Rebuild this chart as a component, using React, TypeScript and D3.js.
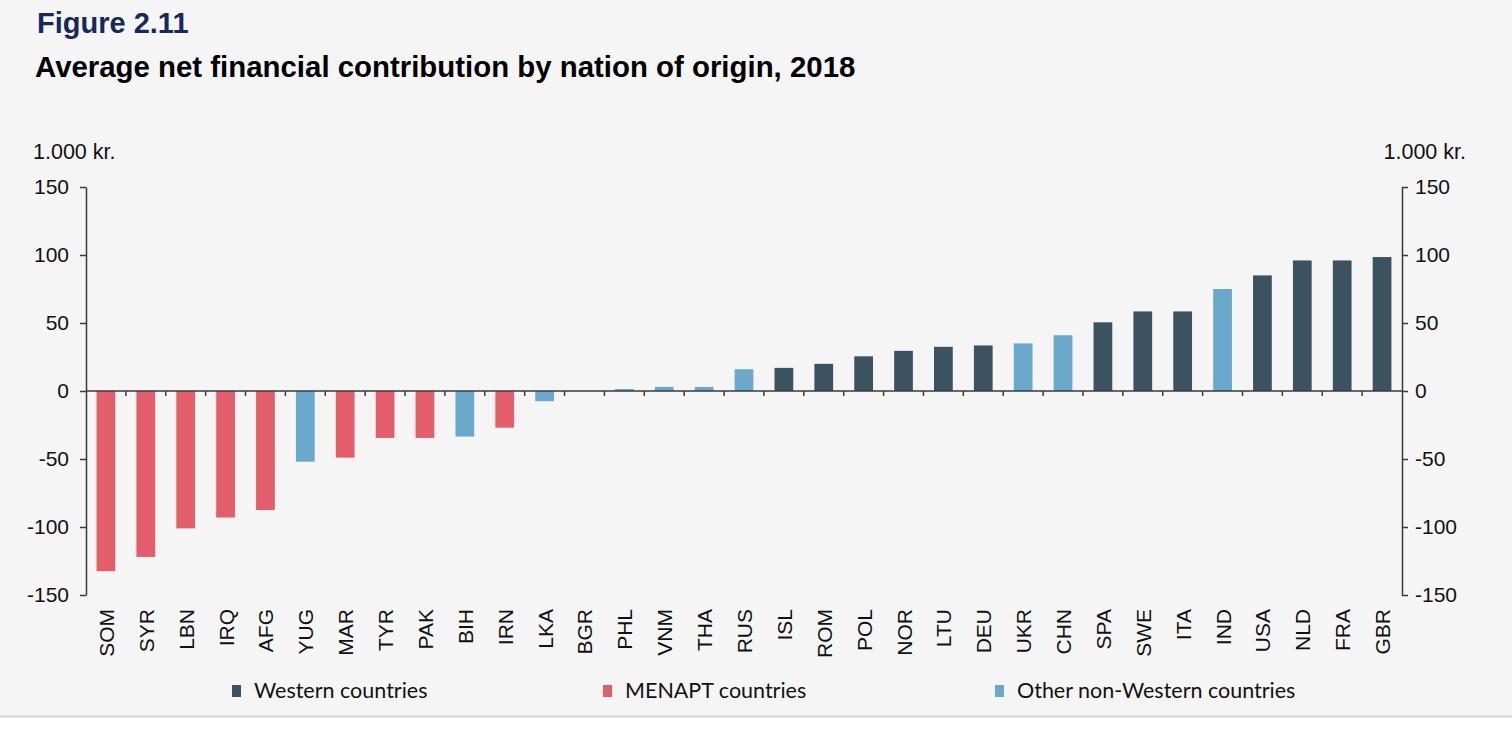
import React, { useEffect, useRef } from "react";
import * as d3 from "d3";

const WIDTH = 1512;
const HEIGHT = 729;

const countries = [
  "SOM", "SYR", "LBN", "IRQ", "AFG", "YUG", "MAR", "TYR", "PAK", "BIH", "IRN",
  "LKA", "BGR", "PHL", "VNM", "THA", "RUS", "ISL", "ROM", "POL", "NOR", "LTU",
  "DEU", "UKR", "CHN", "SPA", "SWE", "ITA", "IND", "USA", "NLD", "FRA", "GBR",
];
const values = [
  -132.5, -122, -101, -93, -87.5, -52, -49, -34.5, -34.5, -33.5, -27,
  -7.5, 0, 1.5, 3, 3, 16, 17, 20, 25.5, 29.5, 32.5,
  33.5, 35, 41, 50.5, 58.5, 58.5, 75, 85, 96, 96, 98.5,
];
// W = Western, M = MENAPT, O = other non-Western
const groups = [
  "M", "M", "M", "M", "M", "O", "M", "M", "M", "O", "M",
  "O", "O", "O", "O", "O", "O", "W", "W", "W", "W", "W",
  "W", "O", "O", "W", "W", "W", "O", "W", "W", "W", "W",
];
const legendLabels = ["Western countries", "MENAPT countries", "Other non-Western countries"];
const groupKeys = ["W", "M", "O"];
const yTicks = [-150, -100, -50, 0, 50, 100, 150];

const colors: Record<string, string> = {
  W: "#3d5261",
  M: "#e35d6a",
  O: "#6aa9cb",
};

const App: React.FC = () => {
  const ref = useRef<SVGSVGElement>(null);

  useEffect(() => {
    if (!ref.current) return;
    const svg = d3.select(ref.current);
    svg.selectAll("*").remove();

    const left = 86;
    const right = 1402;
    const top = 187;
    const bottom = 595;

    const font = "'Liberation Sans', Arial, sans-serif";

    // background
    svg.append("rect").attr("width", WIDTH).attr("height", 716).attr("fill", "#f5f5f5");
    svg.append("rect").attr("y", 716).attr("width", WIDTH).attr("height", HEIGHT - 716).attr("fill", "#ffffff");
    svg.append("line")
      .attr("x1", 0).attr("x2", WIDTH).attr("y1", 716.5).attr("y2", 716.5)
      .attr("stroke", "#d4d4d4").attr("stroke-width", 2);

    // titles
    svg.append("text")
      .attr("x", 37).attr("y", 33)
      .style("font-family", font)
      .style("font-size", "29px").style("font-weight", "bold")
      .attr("fill", "#16295e")
      .text("Figure 2.11");
    svg.append("text")
      .attr("x", 35).attr("y", 77)
      .style("font-family", font)
      .style("font-size", "29.4px").style("font-weight", "bold")
      .attr("fill", "#000")
      .text("Average net financial contribution by nation of origin, 2018");

    const x = d3.scaleBand().domain(countries).range([left, right]).paddingInner(0.53).paddingOuter(0.265);
    const xb = d3.scaleBand().domain(countries).range([left, right]);
    const y = d3.scaleLinear().domain([-150, 150]).range([bottom, top]);

    // bars
    svg.append("g")
      .selectAll("rect")
      .data(countries)
      .enter()
      .append("rect")
      .attr("x", (d) => x(d) as number)
      .attr("width", x.bandwidth())
      .attr("y", (d, i) => y(Math.max(0, values[i])))
      .attr("height", (d, i) => Math.abs(y(values[i]) - y(0)))
      .attr("fill", (d, i) => colors[groups[i]]);

    const axisColor = "#3a3a3a";

    // zero line and category ticks
    svg.append("line")
      .attr("x1", left).attr("x2", right).attr("y1", y(0)).attr("y2", y(0))
      .attr("stroke", axisColor).attr("stroke-width", 1.5);
    svg.append("g")
      .selectAll("line")
      .data(countries.slice(1))
      .enter()
      .append("line")
      .attr("x1", (d) => xb(d) as number)
      .attr("x2", (d) => xb(d) as number)
      .attr("y1", y(0))
      .attr("y2", y(0) + 5)
      .attr("stroke", axisColor)
      .attr("stroke-width", 1.5);

    const fmt = (d: d3.NumberValue) => String(d);

    // left axis
    const leftAxis = svg.append("g")
      .attr("transform", `translate(${left},0)`)
      .call(d3.axisLeft(y).tickValues(yTicks).tickSize(6).tickSizeOuter(0).tickPadding(11).tickFormat(fmt));
    // right axis
    const rightAxis = svg.append("g")
      .attr("transform", `translate(${right},0)`)
      .call(d3.axisRight(y).tickValues(yTicks).tickSize(6).tickSizeOuter(0).tickPadding(7).tickFormat(fmt));

    [leftAxis, rightAxis].forEach((a) => {
      a.select(".domain").attr("stroke", axisColor).attr("stroke-width", 1.5);
      a.selectAll(".tick line").attr("stroke", axisColor).attr("stroke-width", 1.5);
      a.selectAll(".tick text")
        .attr("fill", "#111")
        .style("font-family", font)
        .style("font-size", "21px");
    });

    // unit labels
    svg.append("text")
      .attr("x", 33).attr("y", 159)
      .style("font-family", font).style("font-size", "21.5px")
      .attr("fill", "#111")
      .text("1.000 kr.");
    svg.append("text")
      .attr("x", 1466).attr("y", 159)
      .attr("text-anchor", "end")
      .style("font-family", font).style("font-size", "21.5px")
      .attr("fill", "#111")
      .text("1.000 kr.");

    // category labels
    svg.append("g")
      .selectAll("text")
      .data(countries)
      .enter()
      .append("text")
      .attr("transform", (d) => `translate(${(x(d) as number) + x.bandwidth() / 2 + 8},609) rotate(-90)`)
      .attr("text-anchor", "end")
      .style("font-family", font)
      .style("font-size", "21px")
      .attr("fill", "#111")
      .text((d) => d);

    // legend
    const legendX = [232, 603, 995];
    const legend = svg.append("g");
    groupKeys.forEach((k, i) => {
      legend.append("rect")
        .attr("x", legendX[i]).attr("y", 685)
        .attr("width", 9).attr("height", 12)
        .attr("fill", colors[k]);
      legend.append("text")
        .attr("x", legendX[i] + 22).attr("y", 698)
        .style("font-family", "Lato, 'Open Sans', sans-serif")
        .style("font-size", "21.5px")
        .attr("fill", "#111")
        .text(legendLabels[i]);
    });
  }, []);

  return (
    <div>
      <style>{"body{margin:0}"}</style>
      <svg
        ref={ref}
        width={WIDTH}
        height={HEIGHT}
        viewBox={`0 0 ${WIDTH} ${HEIGHT}`}
        style={{ display: "block" }}
      />
    </div>
  );
};

export default App;
